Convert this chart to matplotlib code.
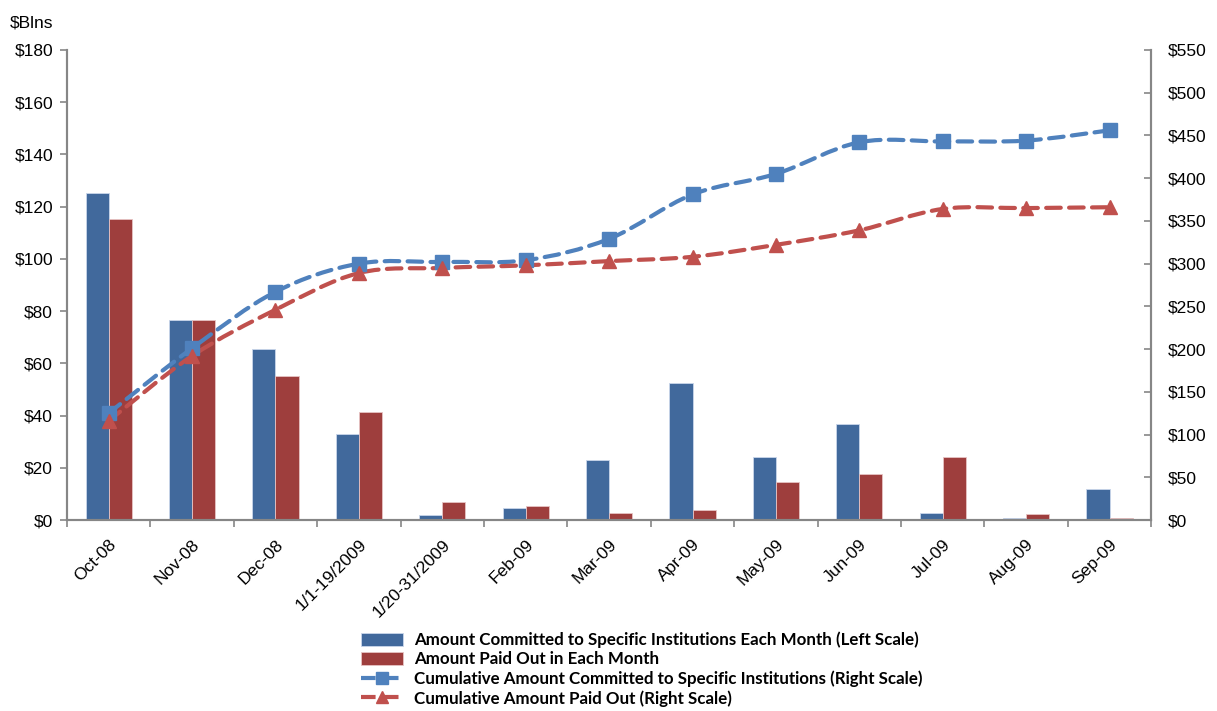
import numpy as np
import matplotlib
matplotlib.use("Agg")
import matplotlib.pyplot as plt
from matplotlib.ticker import FuncFormatter
from matplotlib.path import Path
from matplotlib.patches import PathPatch
from matplotlib.lines import Line2D

months = ["Oct-08", "Nov-08", "Dec-08", "1/1-19/2009", "1/20-31/2009", "Feb-09",
          "Mar-09", "Apr-09", "May-09", "Jun-09", "Jul-09", "Aug-09", "Sep-09"]

# monthly amounts, $Blns (left scale)
committed = [125.2, 76.6, 65.5, 33.0, 1.8, 4.5, 23.0, 52.6, 24.0, 36.8, 2.8, 0.9, 11.9]
paid_out = [115.3, 76.6, 55.2, 41.4, 7.0, 5.5, 2.8, 3.8, 14.4, 17.6, 24.0, 2.3, 0.9]

# cumulative amounts, $Blns (right scale)
cum_committed = [125, 201, 267, 300, 302, 304, 329, 381, 405, 442, 443, 444, 456]
cum_paid = [116, 192, 246, 289, 295, 298, 303, 308, 322, 339, 364, 365, 366]

plt.rcParams['font.family'] = ['Liberation Sans', 'DejaVu Sans']

blue_bar = "#41699C"
red_bar = "#9E3E3D"
blue_line = "#4F81BD"
red_line = "#C0504D"
grey = "#868686"
dash = (0, (3.5, 2))


def smooth_path(xs, ys):
    # excel-style smoothed line: catmull-rom segments as cubic beziers
    pts = np.column_stack([xs, ys]).astype(float)
    verts = [pts[0]]
    codes = [Path.MOVETO]
    n = len(pts)
    for i in range(n - 1):
        p0 = pts[i - 1] if i > 0 else pts[i]
        p1 = pts[i]
        p2 = pts[i + 1]
        p3 = pts[i + 2] if i + 2 < n else pts[i + 1]
        verts += [p1 + (p2 - p0) / 6, p2 - (p3 - p1) / 6, p2]
        codes += [Path.CURVE4] * 3
    return Path(verts, codes)


fig = plt.figure(figsize=(12.17, 7.11), dpi=100)
ax = fig.add_axes([0.055, 0.2686, 0.891, 0.6611])
ax2 = ax.twinx()

x = np.arange(len(months))
w = 0.277
b1 = ax.bar(x - w / 2, committed, w, color=blue_bar, edgecolor="#c9d6ea", linewidth=0.6)
b2 = ax.bar(x + w / 2, paid_out, w, color=red_bar, edgecolor="#e6c4c4", linewidth=0.6)

for ys, c, m in ((cum_committed, blue_line, "s"), (cum_paid, red_line, "^")):
    pp = PathPatch(smooth_path(x, ys), fill=False, edgecolor=c, lw=3,
                   linestyle=dash, capstyle="round")
    ax2.add_patch(pp)
    ax2.plot(x, ys, ls="none", marker=m, ms=10, mfc=c, mec=c)

l1 = Line2D([], [], color=blue_line, lw=3, ls=dash, marker="s", ms=9,
            mfc=blue_line, mec=blue_line)
l2 = Line2D([], [], color=red_line, lw=3, ls=dash, marker="^", ms=9,
            mfc=red_line, mec=red_line)

ax.set_xlim(-0.5, len(months) - 0.5)
ax.set_ylim(0, 180)
ax2.set_ylim(0, 550)
ax.set_yticks(np.arange(0, 181, 20))
ax2.set_yticks(np.arange(0, 551, 50))
ax.yaxis.set_major_formatter(FuncFormatter(lambda v, p: "$%d" % v))
ax2.yaxis.set_major_formatter(FuncFormatter(lambda v, p: "$%d" % v))

# category labels in the middle, tick marks between categories
ax.set_xticks(x)
ax.set_xticklabels(months, rotation=45, ha="right", rotation_mode="anchor", fontsize=12.5)
ax.set_xticks(np.arange(-0.5, len(months), 1), minor=True)
ax.tick_params(axis="x", which="major", length=0, pad=12)
ax.tick_params(axis="x", which="minor", length=5, color=grey, width=1.2, direction="out")
ax.tick_params(axis="y", length=5, color=grey, width=1.2, labelsize=12.5, pad=5)
ax2.tick_params(axis="y", length=5, color=grey, width=1.2, labelsize=12.5, pad=12,
                direction="in")

for a in (ax, ax2):
    a.spines["top"].set_visible(False)
    for s in ("left", "right", "bottom"):
        a.spines[s].set_color(grey)
        a.spines[s].set_linewidth(1.5)

fig.text(0.008, 0.967, "$Blns", fontsize=12.5, ha="left", va="center")

leg = fig.legend([b1, b2, l1, l2],
                 ["Amount Committed to Specific Institutions Each Month (Left Scale)",
                  "Amount Paid Out in Each Month",
                  "Cumulative Amount Committed to Specific Institutions (Right Scale)",
                  "Cumulative Amount Paid Out (Right Scale)"],
                 loc="upper left", bbox_to_anchor=(0.291, 0.121), frameon=False,
                 prop={"family": "Lato", "weight": "bold", "size": 12.2},
                 handlelength=2.5, handleheight=0.8, labelspacing=0.18,
                 handletextpad=0.65, borderaxespad=0)

fig.savefig("out.png", dpi=100)
